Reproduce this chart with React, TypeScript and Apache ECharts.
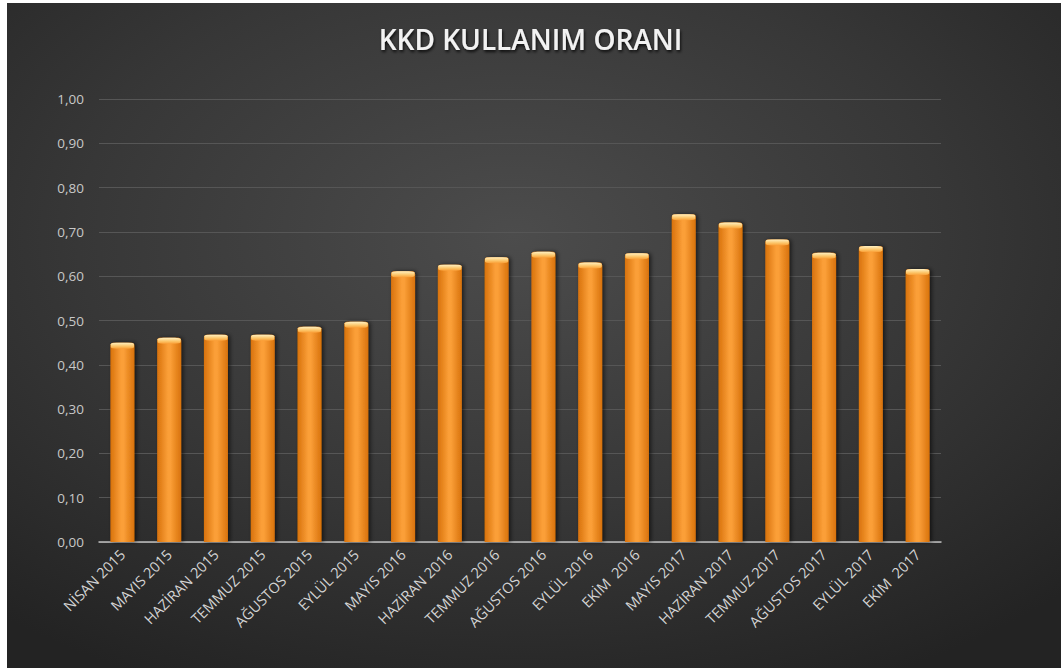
import React, { useEffect, useRef } from "react";
import * as echarts from "echarts";

const categories = [
  "NİSAN 2015", "MAYIS 2015", "HAZİRAN 2015", "TEMMUZ 2015", "AĞUSTOS 2015", "EYLÜL 2015",
  "MAYIS 2016", "HAZİRAN 2016", "TEMMUZ 2016", "AĞUSTOS 2016", "EYLÜL 2016", "EKİM  2016",
  "MAYIS 2017", "HAZİRAN 2017", "TEMMUZ 2017", "AĞUSTOS 2017", "EYLÜL 2017", "EKİM  2017",
];
const values = [
  0.45, 0.461, 0.468, 0.468, 0.486, 0.497,
  0.611, 0.626, 0.643, 0.655, 0.631, 0.652,
  0.74, 0.721, 0.683, 0.653, 0.668, 0.616,
];
const titleText = "KKD KULLANIM ORANI";

export default function App() {
  const ref = useRef<HTMLDivElement>(null);
  useEffect(() => {
    document.body.style.margin = "0";
    const chart = echarts.init(ref.current!, undefined, { renderer: "svg" });
    chart.setOption({
      animation: false,
      backgroundColor: "#ffffff",
      graphic: [
        {
          type: "rect",
          z: -10,
          silent: true,
          shape: { x: 7, y: 3, width: 1054, height: 665 },
          style: {
            fill: new echarts.graphic.RadialGradient(0.48, 0.35, 0.75, [
              { offset: 0, color: "#4c4c4c" },
              { offset: 0.55, color: "#373737" },
              { offset: 1, color: "#232323" },
            ]),
          },
        },
      ],
      title: {
        text: titleText,
        left: "center",
        top: 20,
        textStyle: {
          color: "#f2f2f2",
          fontFamily: "Open Sans",
          fontWeight: 600,
          fontSize: 28,
          textShadowColor: "rgba(0,0,0,0.8)",
          textShadowBlur: 3,
          textShadowOffsetX: 1,
          textShadowOffsetY: 2,
        },
      },
      grid: { left: 99, right: 120, top: 99, bottom: 126, containLabel: false },
      xAxis: {
        type: "category",
        data: categories,
        axisLine: { lineStyle: { color: "#bfbfbf", width: 1.5 } },
        axisTick: { show: false },
        axisLabel: {
          rotate: 45,
          interval: 0,
          color: "#d4d4d4",
          fontFamily: "Open Sans",
          fontSize: 14.5,
          margin: 10,
        },
      },
      yAxis: {
        type: "value",
        min: 0,
        max: 1,
        interval: 0.1,
        axisLine: { show: false },
        axisTick: { show: false },
        splitLine: { lineStyle: { color: "#565656", width: 1 } },
        axisLabel: {
          color: "#c8c8c8",
          fontFamily: "Open Sans",
          fontSize: 13.5,
          margin: 15,
          formatter: (v: number) => v.toFixed(2).replace(".", ","),
        },
      },
      series: [
        {
          type: "bar",
          data: values,
          barWidth: 24,
          itemStyle: {
            color: new echarts.graphic.LinearGradient(0, 0, 1, 0, [
              { offset: 0, color: "#d8720c" },
              { offset: 0.45, color: "#fb9f38" },
              { offset: 0.55, color: "#fb9f38" },
              { offset: 1, color: "#d8720c" },
            ]),
            borderRadius: [3, 3, 0, 0],
            shadowColor: "rgba(0,0,0,0.6)",
            shadowBlur: 4,
            shadowOffsetX: 2,
          },
        },
        {
          type: "pictorialBar",
          data: values,
          symbol: "roundRect",
          symbolSize: [23, 6],
          symbolPosition: "end",
          symbolOffset: [0, 0],
          silent: true,
          z: 3,
          itemStyle: {
            color: new echarts.graphic.LinearGradient(0, 0, 0, 1, [
              { offset: 0, color: "#fff0c0" },
              { offset: 0.6, color: "#fcc467" },
              { offset: 1, color: "#fa9f38" },
            ]),
          },
        },
      ],
    });
    return () => chart.dispose();
  }, []);
  return <div ref={ref} style={{ width: 1061, height: 668 }} />;
}
